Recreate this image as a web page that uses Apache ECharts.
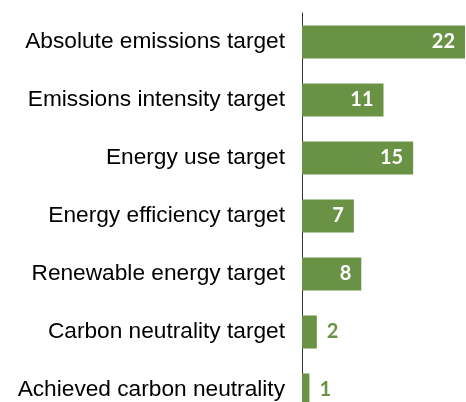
<!DOCTYPE html>
<html><head><meta charset="utf-8">
<script src="https://cdn.jsdelivr.net/npm/echarts@6/dist/echarts.min.js"></script>
<style>html,body{margin:0;padding:0;background:#fff}#c{width:466px;height:402px}</style>
</head><body><div id="c"></div>
<script>
var categories = ["Absolute emissions target","Emissions intensity target","Energy use target","Energy efficiency target","Renewable energy target","Carbon neutrality target","Achieved carbon neutrality"];
var values = [22, 11, 15, 7, 8, 2, 1];
var green = '#6a9245';
var chart = echarts.init(document.getElementById('c'));
chart.setOption({
  animation: false,
  grid: {left: 302, right: 1, top: 13, height: 406, containLabel: false, outerBoundsMode: 'none'},
  xAxis: {type: 'value', min: 0, max: 22, show: false},
  yAxis: {type: 'category', inverse: true, data: categories,
    axisLine: {show: true, lineStyle: {color: '#333', width: 1}},
    axisTick: {show: false},
    axisLabel: {margin: 17, color: '#000', fontFamily: 'Liberation Sans, Arial', fontSize: 22.7}
  },
  series: [{
    type: 'bar', barWidth: '57%',
    itemStyle: {color: green},
    data: values.map(function(v){
      var inside = v >= 5;
      return {value: v, label: {show: true,
        position: inside ? 'insideRight' : 'right',
        distance: 10,
        color: inside ? '#fff' : green,
        fontFamily: 'Lato', fontWeight: 'bold', fontSize: 20}};
    })
  }]
});
</script></body></html>
